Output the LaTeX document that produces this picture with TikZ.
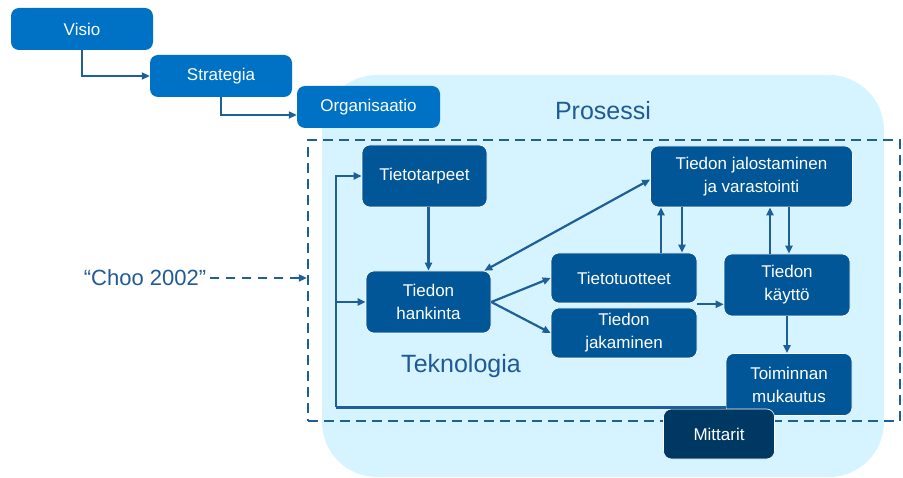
\documentclass[tikz,border=0pt]{standalone}
\usepackage{fontspec}
\setmainfont{Liberation Sans}
\usetikzlibrary{arrows.meta}
\definecolor{topblue}{RGB}{0,114,198}
\definecolor{innerblue}{RGB}{0,86,150}
\definecolor{darkblue}{RGB}{0,56,100}
\definecolor{lightbg}{RGB}{214,244,255}
\definecolor{linecol}{RGB}{30,95,152}
\definecolor{labcol}{RGB}{31,90,150}
\tikzset{
  topbox/.style={fill=topblue, text=white, rounded corners=8pt, minimum width=142pt, minimum height=42pt, inner sep=0pt, font=\fontsize{17}{22}\selectfont},
  inbox/.style={fill=innerblue, draw=white, line width=0.6pt, text=white, rounded corners=8pt, inner sep=0pt, align=center, font=\fontsize{17}{23}\selectfont},
  mbox/.style={fill=darkblue, draw=white, line width=0.6pt, text=white, rounded corners=8pt, inner sep=0pt, font=\fontsize{17}{23}\selectfont},
  conn/.style={draw=linecol, line width=2.2pt, -{Triangle[length=8pt,width=7pt]}},
  biconn/.style={draw=linecol, line width=2.2pt, {Triangle[length=8pt,width=7pt]}-{Triangle[length=8pt,width=7pt]}},
  plain/.style={draw=linecol, line width=2.2pt},
  biglabel/.style={text=labcol, font=\fontsize{25}{30}\selectfont},
}
\begin{document}
\begin{tikzpicture}[x=1pt,y=-1pt]
\useasboundingbox (0,0) rectangle (903,478);
% background process area
\node[fill=lightbg, rounded corners=55pt, minimum width=562pt, minimum height=402pt, inner sep=0pt] (proc) at (603,276) {};
% dashed frame
\node[draw=linecol, line width=2.4pt, dash pattern=on 10pt off 6pt, minimum width=592pt, minimum height=281pt, inner sep=0pt] (dbox) at (604,280.5) {};
\node[biglabel] (pros) at (603,111) {Prosessi};
\node[biglabel] (tekn) at (461,366) {Teknologia};
\node[text=labcol, font=\fontsize{22}{26}\selectfont] (choo) at (145,278) {“Choo 2002”};
% top chain
\node[topbox] (visio) at (82,29) {Visio};
\node[topbox] (strat) at (221,76) {Strategia};
\node[topbox, minimum width=143pt] (org) at (368.5,107) {Organisaatio};
% inner boxes
\node[inbox, minimum width=125pt, minimum height=62pt] (tarp) at (424.5,176) {Tietotarpeet};
\node[inbox, minimum width=125pt, minimum height=62pt] (hank) at (428.5,302) {Tiedon\\hankinta};
\node[inbox, minimum width=146pt, minimum height=50pt] (tuot) at (624,278) {Tietotuotteet};
\node[inbox, minimum width=146pt, minimum height=50pt] (jak) at (624,333) {Tiedon\\jakaminen};
\node[inbox, minimum width=202pt, minimum height=61pt] (jal) at (751.5,176.5) {Tiedon jalostaminen\\ja varastointi};
\node[inbox, minimum width=126pt, minimum height=62pt] (kay) at (787,285) {Tiedon\\käyttö};
\node[inbox, minimum width=126pt, minimum height=62pt] (muk) at (789,384.5) {Toiminnan\\mukautus};
\node[mbox, minimum width=111pt, minimum height=50pt] (mitt) at (719,434) {Mittarit};
% connectors top chain
\draw[conn] (visio.south) |- (strat.west);
\draw[conn] (strat.south) |- ([yshift=-8pt]org.west);
% Choo arrow
\draw[draw=linecol, line width=2.4pt, dash pattern=on 9pt off 7pt, -{Triangle[length=8pt,width=7pt]}] (choo.east) -- (choo.east -| dbox.west);
% feedback loop
\coordinate (fbr) at ([yshift=-23pt]muk.west);
\coordinate (fbl) at (336,407.5);
\draw[plain] (fbr) -- (fbl);
\draw[conn] (fbl) |- (tarp.west);
\draw[conn] (fbl |- hank.west) -- (hank.west);
% inner connectors
\draw[conn] (hank.north |- tarp.south) -- (hank.north);
\draw[biconn] ([xshift=-7pt]hank.north east) -- ([yshift=-3pt]jal.west);
\draw[conn] (hank.east) -- (tuot.west);
\draw[conn] (hank.east) -- (jak.west);
\draw[conn] ([xshift=37pt]tuot.north) -- ([xshift=37pt]tuot.north |- jal.south);
\draw[conn] ([xshift=58pt]tuot.north |- jal.south) -- ([xshift=58pt]tuot.north);
\draw[conn] ([xshift=-17pt]kay.north) -- ([xshift=-17pt]kay.north |- jal.south);
\draw[conn] ([xshift=2pt]kay.north |- jal.south) -- ([xshift=2pt]kay.north);
\draw[conn] ([yshift=-1pt]tuot.south east) -- ([yshift=-1pt]tuot.south east -| kay.west);
\draw[conn] (kay.south) -- (kay.south |- muk.north);
\end{tikzpicture}
\end{document}
